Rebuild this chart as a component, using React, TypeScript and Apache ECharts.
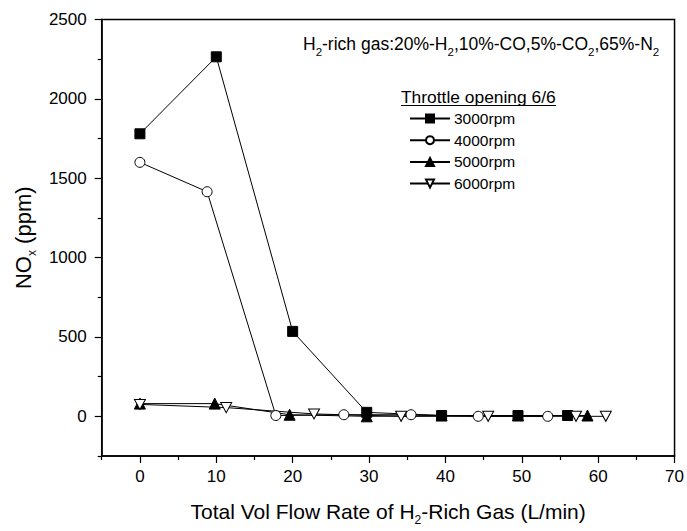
import React, { useEffect, useRef } from 'react';
import * as echarts from 'echarts';

const seriesNames = ['3000rpm', '4000rpm', '5000rpm', '6000rpm'];
const rpm3000 = [[0, 1780], [10, 2265], [20, 535], [29.7, 25], [39.5, 5], [49.5, 5], [56, 5]];
const rpm4000 = [[0, 1600], [8.8, 1415], [17.8, 5], [26.7, 10], [35.5, 10], [44.3, 0], [53.4, 0]];
const rpm5000 = [[0, 80], [9.8, 80], [19.6, 10], [29.7, 0], [39.5, 5], [49.5, 5], [58.6, 5]];
const rpm6000 = [[0, 75], [11.3, 55], [22.8, 15], [34.2, 0], [45.6, 0], [57.1, 0], [61, 0]];
const xMajorTicks = [0, 10, 20, 30, 40, 50, 60, 70];
const xMinorTicks = [-5, 5, 15, 25, 35, 45, 55, 65];
const yMajorTicks = [0, 500, 1000, 1500, 2000, 2500];
const yMinorTicks = [-250, 250, 750, 1250, 1750, 2250];

const FONT = '"Liberation Sans", Arial, Helvetica, sans-serif';

export default function App() {
  const ref = useRef<HTMLDivElement>(null);
  useEffect(() => {
    if (!ref.current) return;
    const chart = echarts.init(ref.current, undefined, { renderer: 'svg' });
    const sub = { fontSize: 12, verticalAlign: 'bottom', lineHeight: 12, fontFamily: FONT, color: '#000' };
    const mkSeries = (name: string, data: number[][], symbol: string, size: any, filled: boolean) => ({
      name,
      type: 'line',
      data,
      symbol,
      symbolSize: size,
      showAllSymbol: true,
      xAxisIndex: 0,
      yAxisIndex: 0,
      lineStyle: { color: '#000', width: 1 },
      itemStyle: { color: filled ? '#000' : '#fff', borderColor: '#000', borderWidth: 1 },
      emphasis: { disabled: true },
      z: 3,
    });
    const legendTop = 110.5;
    const legendGap = 21.7;
    chart.setOption({
      animation: false,
      textStyle: { fontFamily: FONT },
      grid: { left: 101, right: 7, top: 19.5, bottom: 69, show: true, borderColor: '#000', borderWidth: 1.5, backgroundColor: 'transparent' },
      xAxis: [
        {
          type: 'value', min: -5, max: 70, position: 'bottom',
          axisLine: { show: true, onZero: false, lineStyle: { color: '#000', width: 1.5 } },
          axisTick: { show: true, customValues: xMajorTicks, length: 7, lineStyle: { color: '#000', width: 1.2 } },
          axisLabel: { show: true, customValues: xMajorTicks, fontSize: 17, color: '#000', margin: 12, fontFamily: FONT, formatter: (v: number) => String(v) },
          splitLine: { show: false },
          name: 'Total Vol Flow Rate of H{sub|2}-Rich Gas (L/min)',
          nameLocation: 'middle', nameGap: 40,
          nameTextStyle: { fontSize: 21, color: '#000', fontFamily: FONT, lineHeight: 30, rich: { sub } },
        },
        {
          type: 'value', min: -5, max: 70, position: 'bottom',
          axisLine: { show: false, onZero: false },
          axisTick: { show: true, customValues: xMinorTicks, length: 4, lineStyle: { color: '#000', width: 1.2 } },
          axisLabel: { show: false },
          splitLine: { show: false },
        },
      ],
      yAxis: [
        {
          type: 'value', min: -250, max: 2500, position: 'left',
          axisLine: { show: true, onZero: false, lineStyle: { color: '#000', width: 1.5 } },
          axisTick: { show: true, customValues: yMajorTicks, length: 7, lineStyle: { color: '#000', width: 1.2 } },
          axisLabel: { show: true, customValues: yMajorTicks, fontSize: 17, color: '#000', margin: 15, fontFamily: FONT, formatter: (v: number) => String(v) },
          splitLine: { show: false },
          name: 'NO{sub|x} (ppm)',
          nameLocation: 'middle', nameGap: 60, nameRotate: 90,
          nameTextStyle: { fontSize: 22, color: '#000', fontFamily: FONT, lineHeight: 30, rich: { sub } },
        },
        {
          type: 'value', min: -250, max: 2500, position: 'left',
          axisLine: { show: false, onZero: false },
          axisTick: { show: true, customValues: yMinorTicks, length: 4, lineStyle: { color: '#000', width: 1.2 } },
          axisLabel: { show: false },
          splitLine: { show: false },
        },
      ],
      legend: seriesNames.map((n, i) => ({
        data: [n],
        orient: 'vertical',
        left: 409,
        top: legendTop + i * legendGap,
        itemWidth: 40,
        itemHeight: 10,
        itemGap: 0,
        padding: 0,
        selectedMode: false,
        textStyle: { fontSize: 15.5, color: '#000', fontFamily: FONT, padding: [0, 0, 0, -1] },
      })),
      graphic: [
        {
          type: 'text', left: 303, top: 30,
          style: {
            text: 'H{sub|2}-rich gas:20%-H{sub|2},10%-CO,5%-CO{sub|2},65%-N{sub|2}',
            fontSize: 17.5, fill: '#000', fontFamily: FONT, lineHeight: 28,
            rich: { sub: { fontSize: 11.5, verticalAlign: 'bottom', lineHeight: 11.5, fontFamily: FONT, fill: '#000' } },
          },
        },
        {
          type: 'text', left: 401, top: 88,
          style: { text: 'Throttle opening 6/6', fontSize: 17.4, fill: '#000', fontFamily: FONT },
        },
        {
          type: 'line', shape: { x1: 401, y1: 105.5, x2: 556, y2: 105.5 },
          style: { stroke: '#000', lineWidth: 1 },
        },
      ],
      series: [
        mkSeries(seriesNames[0], rpm3000, 'rect', 10, true),
        mkSeries(seriesNames[1], rpm4000, 'circle', 10, false),
        mkSeries(seriesNames[2], rpm5000, 'triangle', 11, true),
        mkSeries(seriesNames[3], rpm6000, 'path://M0,0L10,0L5,9Z', [11, 10], false),
      ],
    });
    return () => chart.dispose();
  }, []);
  return <div ref={ref} style={{ position: 'fixed', left: 0, top: 0, width: 687, height: 531, background: '#fff' }} />;
}
